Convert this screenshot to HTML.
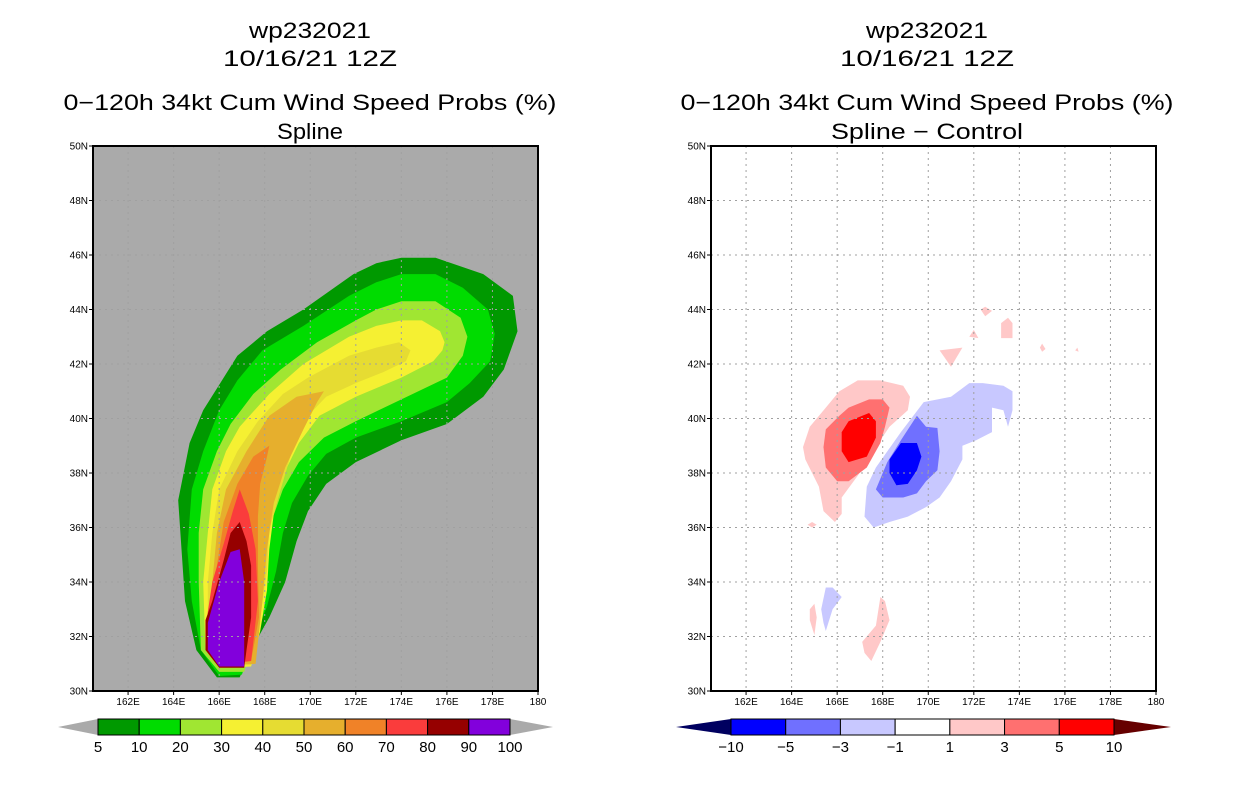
<!DOCTYPE html>
<html><head><meta charset="utf-8"><style>
body{margin:0;background:#fff;width:1236px;height:800px;overflow:hidden}
svg{display:block}
text{font-family:"Liberation Sans",sans-serif}
</style></head><body>
<svg id="chart" width="1236" height="800" viewBox="0 0 1236 800"></svg>
<script>
// ---- data ----
const lonTicks=[162,164,166,168,170,172,174,176,178,180];
const lonTickLabels=["162E","164E","166E","168E","170E","172E","174E","176E","178E","180"];
const latTicks=[30,32,34,36,38,40,42,44,46,48,50];
const latTickLabels=["30N","32N","34N","36N","38N","40N","42N","44N","46N","48N","50N"];
const probLevels=["5","10","20","30","40","50","60","70","80","90","100"];
const probColors=["#009900","#00dc00","#a0e632","#f5f032","#e6dc32","#e6af2d","#f08228","#fa3c3c","#960000","#8200dc"];
const diffLevels=["−10","−5","−3","−1","1","3","5","10"];
const diffColors=["#0000ff","#7070ff","#c8c8ff","#ffffff","#ffc8c8","#ff7070","#ff0000"];
const prob5=[[174.0,45.9],[175.5,45.9],[177.6,45.3],[178.9,44.5],[179.1,43.2],[178.5,41.8],[177.6,40.8],[176.0,39.8],[174.0,39.2],[172.0,38.4],[170.7,37.6],[169.9,36.6],[169.4,35.5],[168.9,34.0],[168.2,32.7],[167.4,31.5],[166.9,30.5],[165.9,30.5],[165.0,31.5],[164.5,33.3],[164.2,37.0],[164.7,39.1],[165.3,40.3],[166.8,42.3],[168.1,43.2],[169.7,44.0],[171.9,45.3],[172.9,45.7]];
const prob10=[[174.0,45.3],[175.5,45.3],[176.7,44.8],[177.8,44.0],[178.1,43.1],[177.9,42.1],[177.0,41.3],[176.0,40.6],[174.0,39.9],[172.0,39.3],[170.7,38.7],[169.9,37.9],[169.2,36.9],[168.8,35.8],[168.5,34.4],[168.1,33.1],[167.5,31.8],[167.0,30.6],[166.0,30.55],[165.2,31.5],[164.8,33.3],[164.6,35.2],[164.8,37.4],[165.3,38.8],[166.0,40.3],[166.8,41.4],[167.9,42.5],[169.7,43.4],[171.7,44.5],[172.9,45.0]];
const prob20=[[174.0,44.3],[175.5,44.3],[176.6,43.7],[176.9,43.0],[176.7,42.3],[176.0,41.5],[174.0,40.7],[172.0,39.9],[170.6,39.3],[169.5,38.4],[168.8,37.4],[168.2,36.0],[168.1,34.6],[167.8,33.2],[167.5,31.9],[167.1,30.7],[166.0,30.7],[165.2,31.5],[165.1,34.0],[165.1,35.8],[165.3,37.4],[165.9,38.8],[166.5,39.8],[167.5,40.9],[168.7,41.8],[170.3,42.8],[172.0,43.6],[172.9,44.0]];
const prob30=[[174.0,43.6],[174.9,43.6],[175.7,43.2],[175.9,42.8],[175.8,42.5],[175.4,42.1],[174.0,41.5],[172.0,40.8],[170.4,40.1],[169.5,39.1],[168.8,37.9],[168.4,36.5],[168.2,35.2],[168.1,33.7],[167.8,32.2],[167.4,30.9],[166.0,30.85],[165.4,31.5],[165.3,34.0],[165.5,35.8],[165.7,37.4],[166.3,38.8],[166.9,39.7],[168.2,40.9],[169.7,42.0],[171.7,43.0],[172.9,43.4]];
const prob40=[[173.9,42.8],[174.4,42.5],[174.2,42.1],[173.2,41.7],[172.0,41.3],[170.7,40.8],[169.9,40.1],[169.2,38.8],[168.7,37.4],[168.2,35.9],[168.1,34.4],[167.8,32.7],[167.4,30.95],[166.0,30.9],[165.5,32.1],[165.5,34.0],[165.7,35.8],[166.0,37.4],[166.8,38.8],[167.7,39.9],[168.8,40.9],[169.9,41.5],[171.7,42.3],[172.9,42.6]];
const prob50=[[170.6,41.0],[170.3,40.6],[169.7,39.6],[168.9,38.2],[168.4,36.9],[168.1,35.2],[167.9,33.3],[167.6,31.0],[166.0,30.95],[165.7,32.1],[165.7,34.0],[165.9,35.8],[166.3,37.4],[167.2,38.8],[168.2,40.1],[169.4,40.8]];
const prob60=[[168.2,39.0],[168.1,38.6],[167.8,37.6],[167.7,36.4],[167.7,34.6],[167.75,32.7],[167.4,31.1],[166.0,31.0],[165.7,32.7],[165.9,34.6],[166.2,36.2],[166.8,37.6],[167.5,38.6]];
const prob70=[[166.9,37.4],[167.3,36.5],[167.6,35.2],[167.7,33.3],[167.5,31.8],[167.4,31.1],[166.0,30.95],[165.4,32.0],[165.5,32.9],[165.7,34.0],[166.2,35.4],[166.6,36.6]];
const prob80=[[166.9,36.2],[167.2,35.5],[167.4,34.6],[167.4,32.7],[167.2,31.5],[167.1,30.85],[166.0,30.85],[165.4,31.5],[165.4,32.6],[165.7,33.3],[166.2,34.8],[166.5,35.8]];
const prob90=[[166.5,35.1],[166.9,35.2],[167.1,34.0],[167.1,30.9],[166.0,30.9],[165.5,31.5],[165.5,32.5],[166.0,34.0]];
const diffPos1=[[164.5,38.95],[164.8,39.7],[165.5,40.4],[166.1,41.0],[166.9,41.4],[167.9,41.4],[168.9,41.2],[169.2,40.8],[169.1,40.3],[168.3,39.7],[167.9,39.2],[167.4,38.5],[166.9,37.9],[166.2,37.1],[166.2,36.5],[165.9,36.2],[165.4,36.6],[165.2,37.5],[164.9,38.0],[164.6,38.5]];
const diffPos3=[[165.4,38.95],[165.5,39.6],[166.1,40.1],[166.5,40.4],[167.4,40.7],[168.0,40.7],[168.3,40.4],[168.1,39.7],[167.9,39.1],[167.3,38.2],[166.5,37.7],[166.0,37.7],[165.5,38.2]];
const diffPos5=[[166.2,39.5],[166.5,39.9],[167.4,40.2],[167.7,39.9],[167.7,39.3],[167.3,38.6],[166.5,38.4],[166.2,38.8]];
const diffNeg1=[[167.3,37.5],[167.7,38.2],[168.8,39.5],[169.8,40.6],[171.0,40.8],[171.8,41.3],[172.4,41.3],[173.3,41.2],[173.7,41.0],[173.7,40.3],[173.5,39.7],[173.3,40.3],[172.8,40.4],[172.8,39.5],[172.1,39.2],[171.5,39.0],[171.5,38.5],[171.0,37.7],[170.5,37.1],[169.9,36.75],[169.1,36.4],[168.3,36.2],[167.6,36.0],[167.2,36.4]];
const diffNeg3=[[167.7,37.4],[168.2,38.4],[168.8,39.2],[169.5,40.1],[169.9,39.7],[170.4,39.65],[170.5,38.8],[170.4,38.1],[169.9,37.7],[169.5,37.25],[168.9,37.1],[168.0,37.1]];
const diffNeg5=[[168.3,38.5],[168.8,39.1],[169.5,39.1],[169.7,38.6],[169.5,38.1],[169.1,37.6],[168.6,37.55],[168.3,38.0]];
const diffNegSmall=[[165.3,33.0],[165.5,33.8],[165.8,33.8],[166.2,33.45],[165.8,33.0],[165.5,32.2],[165.4,32.5]];
const diffPosA=[[164.8,33.0],[165.0,33.2],[165.1,32.7],[165.0,32.05],[164.8,32.6]];
const diffPosB=[[167.1,31.8],[167.7,32.4],[167.9,33.45],[168.1,33.3],[168.3,32.6],[167.9,31.8],[167.5,31.1],[167.2,31.4]];
const diffPosC=[[170.5,42.5],[171.5,42.6],[171.0,41.9]];
const diffPosD=[[173.2,43.5],[173.5,43.7],[173.7,43.5],[173.7,42.95],[173.2,42.95]];
const diffPosE=[[172.3,44.0],[172.5,44.1],[172.8,43.95],[172.5,43.75]];
const diffPosF=[[171.8,43.0],[172.0,43.25],[172.2,42.95]];
const diffPosG=[[174.9,42.6],[175.0,42.75],[175.15,42.55],[175.0,42.45]];
const diffPosH=[[176.45,42.5],[176.55,42.6],[176.6,42.45]];
const diffPosI=[[164.7,36.1],[164.9,36.2],[165.1,36.1],[164.9,36.0]];

// ---- drawing ----
const NS="http://www.w3.org/2000/svg";
const svg=document.getElementById("chart");
function mk(tag,attrs,parent){const e=document.createElementNS(NS,tag);for(const k in attrs)e.setAttribute(k,attrs[k]);(parent||svg).appendChild(e);return e;}
const LON0=160.46,LON1=180,LAT0=30,LAT1=50,PW=445,PT=146,PB=691;
function xScale(panelX,lon){return panelX+(lon-LON0)/(LON1-LON0)*PW;}
function yScale(lat){return PB-(lat-LAT0)/(LAT1-LAT0)*(PB-PT);}
function polyPts(px,arr){return arr.map(p=>xScale(px,p[0]).toFixed(1)+","+yScale(p[1]).toFixed(1)).join(" ");}

function panel(px,cx,bg,titleLast,lastW,name){
  const g=mk("g",{});
  
  
  const titles=["wp232021","10/16/21 12Z","0−120h 34kt Cum Wind Speed Probs (%)",titleLast];
  const tw=[122,174,493,lastW];
  const ty=[38,66,110,139];
  titles.forEach((t,i)=>{const e=mk("text",{x:cx,y:ty[i],"text-anchor":"middle","font-size":"22","fill":"#000",textLength:tw[i],lengthAdjust:"spacingAndGlyphs"},g);e.textContent=t;
    
    });
  const bgr=mk("rect",{x:px,y:PT,width:PW,height:PB-PT,fill:bg},g);
  
  
  return g;
}
function gridAndAxes(px,g){
  lonTicks.forEach((v,i)=>{const x=xScale(px,v);
    if(v<180){const l=mk("line",{x1:x,y1:PT,x2:x,y2:PB,stroke:"#a0a0a0","stroke-width":1,"stroke-dasharray":"2,4"},g);
      }
    mk("line",{x1:x,y1:PB,x2:x,y2:PB+4,stroke:"#000","stroke-width":1},g);
    const t=mk("text",{x:x,y:PB+14,"text-anchor":"middle","font-size":"10"},g);t.textContent=lonTickLabels[i];
    });
  latTicks.forEach((v,i)=>{const y=yScale(v);
    if(v>30&&v<50){const l=mk("line",{x1:px,y1:y,x2:px+PW,y2:y,stroke:"#a0a0a0","stroke-width":1,"stroke-dasharray":"2,4"},g);
      }
    mk("line",{x1:px-4,y1:y,x2:px,y2:y,stroke:"#000","stroke-width":1},g);
    const t=mk("text",{x:px-5,y:y+3.5,"text-anchor":"end","font-size":"10"},g);t.textContent=latTickLabels[i];
    });
  const f=mk("rect",{x:px,y:PT,width:PW,height:PB-PT,fill:"none",stroke:"#000","stroke-width":2},g);
  
}
function fill(px,arr,color,g,name){const p=mk("polygon",{points:polyPts(px,arr),fill:color},g);
  }
function colorbar(x0,x1,colors,labels,leftTri,rightTri,lx0,rx1,g,name){
  const cb=mk("g",{},g);
  
  const y0=719,y1=735,w=(x1-x0)/colors.length;
  mk("polygon",{points:`${lx0},${(y0+y1)/2} ${x0},${y0} ${x0},${y1}`,fill:leftTri},cb);
  mk("polygon",{points:`${rx1},${(y0+y1)/2} ${x1},${y0} ${x1},${y1}`,fill:rightTri},cb);
  colors.forEach((c,i)=>{const r=mk("rect",{x:x0+i*w,y:y0,width:w,height:y1-y0,fill:c,stroke:"#000","stroke-width":1},cb);
    });
  labels.forEach((l,i)=>{const t=mk("text",{x:x0+i*w,y:y1+17,"text-anchor":"middle","font-size":"15"},cb);t.textContent=l;
    });
}

// left panel
const L=93;
const gl=panel(L,310,"#aaaaaa","Spline",66,"left-probability-panel");
[prob5,prob10,prob20,prob30,prob40,prob50,prob60,prob70,prob80,prob90].forEach((a,i)=>fill(L,a,probColors[i],gl,"prob-contour-"+probLevels[i]));
gridAndAxes(L,gl);
colorbar(98,510,probColors,probLevels,"#aaaaaa","#aaaaaa",58,553,gl,"probability-colorbar");

// right panel
const R=711;
const gr=panel(R,927,"#ffffff","Spline − Control",192,"right-difference-panel");
fill(R,diffPos1,diffColors[4],gr,"diff-contour-pos1");
fill(R,diffPos3,diffColors[5],gr,"diff-contour-pos3");
fill(R,diffPos5,diffColors[6],gr,"diff-contour-pos5");
fill(R,diffNeg1,diffColors[2],gr,"diff-contour-neg1");
fill(R,diffNeg3,diffColors[1],gr,"diff-contour-neg3");
fill(R,diffNeg5,diffColors[0],gr,"diff-contour-neg5");
fill(R,diffNegSmall,diffColors[2],gr,"diff-contour-neg-small");
[diffPosA,diffPosB,diffPosC,diffPosD,diffPosE,diffPosF,diffPosG,diffPosH,diffPosI].forEach(a=>fill(R,a,diffColors[4],gr,"diff-contour-pos-small"));
gridAndAxes(R,gr);
colorbar(731,1114,diffColors,diffLevels,"#000060","#660000",676,1171,gr,"difference-colorbar");
</script>
</body></html>
